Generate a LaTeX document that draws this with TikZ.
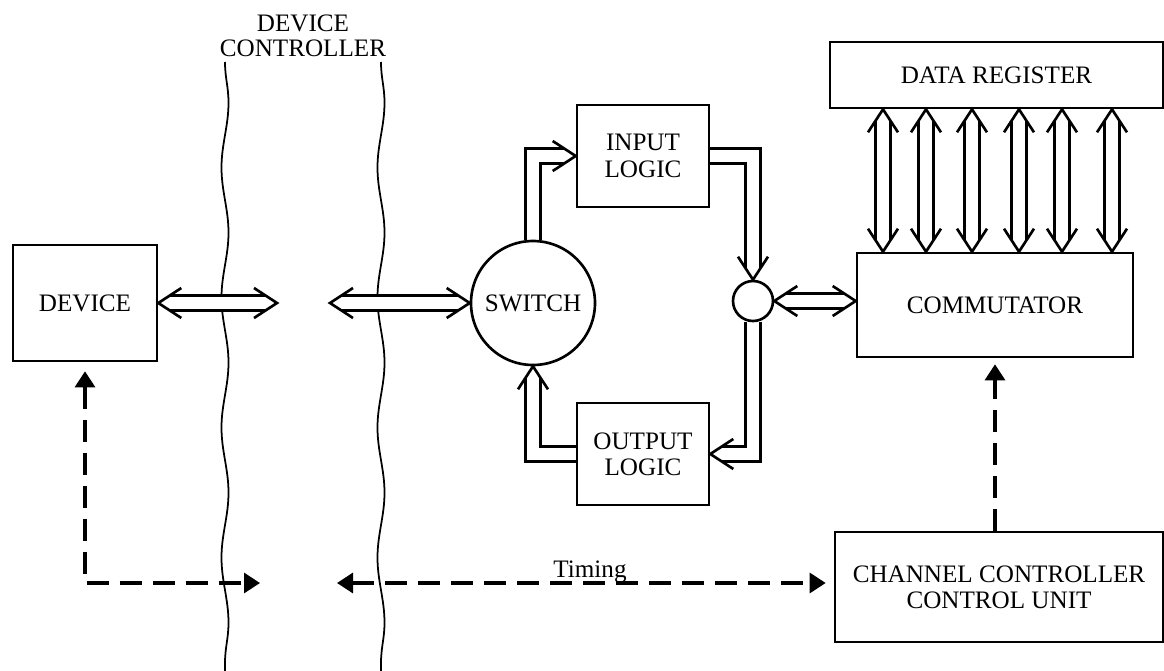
\documentclass[tikz,border=0pt]{standalone}
\usepackage{fontspec}
\setmainfont{Liberation Serif}
\usetikzlibrary{arrows.meta,positioning,decorations.pathmorphing,backgrounds}

\begin{document}
\begin{tikzpicture}[
  blk/.style={draw=black, line width=1.5pt, align=center, inner sep=0pt, font=\fontsize{14.3}{15}\selectfont},
  rnd/.style={blk, circle},
  bus/.style={draw=black, line width=1.5pt, double=white, double distance=0.24cm, line join=miter},
  vhd/.pic={\draw[line width=1.5pt, line join=miter] (-0.46,0.30) -- (0,0) -- (-0.46,-0.30);},
  sig/.style={line width=1.8pt, dash pattern=on 0.44cm off 0.22cm, >={Triangle[length=0.32cm, width=0.40cm]}},
  wav/.style={line width=1pt, decorate, decoration={snake, segment length=2.6cm, amplitude=0.07cm}},
  lbl/.style={font=\fontsize{14.3}{14.2}\selectfont, align=center}]
\useasboundingbox (0,0) rectangle (23.28,-13.42);

%% ── device and controller boundary ───────────────────────
\node[blk, minimum width=2.88cm, minimum height=2.32cm] (dev) at (1.70,-6.06) {DEVICE};
\node[lbl] (dc) at (6.06,-0.72) {DEVICE\\CONTROLLER};
\coordinate (e1) at (5.54,-6.06);
\coordinate (e2) at (6.60,-6.06);
\coordinate (t1) at (5.20,-11.66);
\coordinate (t2) at (6.74,-11.66);

%% ── switch loop ──────────────────────────────────────────
\node[rnd, minimum size=2.48cm] (sw) at (10.66,-6.06) {SWITCH};
\node[blk, minimum width=2.64cm, minimum height=2.04cm] (inp) at (12.86,-3.12) {INPUT\\LOGIC};
\node[blk, minimum width=2.64cm, minimum height=2.04cm] (outp) at (12.86,-9.08) {OUTPUT\\LOGIC};
\node[rnd, minimum size=0.80cm] (jn) at (15.06,-6.02) {};

%% ── channel side ─────────────────────────────────────────
\node[blk, minimum width=5.52cm, minimum height=2.08cm] (com) at (19.90,-6.10) {COMMUTATOR};
\node[blk, minimum width=6.66cm, minimum height=1.32cm] (reg) at (19.93,-1.50) {DATA REGISTER};
\node[blk, minimum width=6.56cm, minimum height=2.20cm] (chn) at (19.98,-11.74) {CHANNEL CONTROLLER\\CONTROL UNIT};

%% hollow data paths (under the boxes)
\begin{scope}[on background layer]
\draw[wav] (4.50,-1.24) -- (4.50,-13.42);
\draw[wav] (7.62,-1.24) -- (7.62,-13.42);
\draw[bus, shorten <=0.23cm, shorten >=0.23cm] (dev.east) -- (e1);
\draw[bus, shorten <=0.23cm, shorten >=0.23cm] (e2) -- (sw.west);
\draw[bus, shorten >=0.23cm] (sw.north) |- (inp.west);
\draw[bus, shorten >=0.23cm] (inp.east) -| (jn.north);
\draw[bus, shorten >=0.23cm] (jn.south) |- (outp.east);
\draw[bus, shorten >=0.23cm] (outp.west) -| (sw.south);
\draw[bus, shorten <=0.23cm, shorten >=0.23cm] (jn.east) -- (jn.east -| com.west);
\foreach \x in {17.66,18.52,19.44,20.38,21.24,22.24}
  {\draw[bus, shorten <=0.23cm, shorten >=0.23cm] (reg.south -| \x,0) -- (com.north -| \x,0);}
\end{scope}

\foreach \p/\r in {dev.east/180, e1/0, e2/180, sw.west/0, inp.west/0, jn.north/-90,
                   outp.east/180, sw.south/90, jn.east/180, jn.east -| com.west/0}
  {\pic[rotate=\r] at (\p) {vhd};}
\foreach \x in {17.66,18.52,19.44,20.38,21.24,22.24}
  {\pic[rotate=90] at (reg.south -| \x,0) {vhd};
   \pic[rotate=-90] at (com.north -| \x,0) {vhd};}

%% dashed control lines
\draw[sig, <->, shorten <=0.18cm] (dev.south) |- (t1);
\draw[sig, <->, shorten >=0.16cm] (t2) -- (t2 -| chn.west);
\draw[sig, ->, shorten >=0.12cm] (com.south |- chn.north) -- (com.south);
\node[lbl, anchor=base] (tm) at (11.80,-11.54) {Timing};
\end{tikzpicture}
\end{document}
